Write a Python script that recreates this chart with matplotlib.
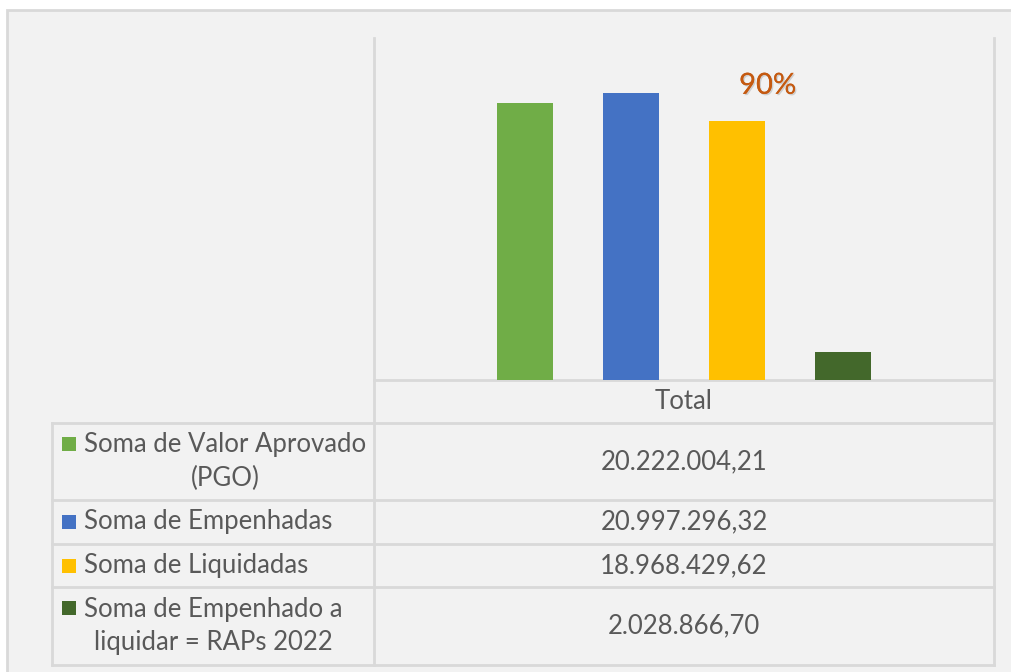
import matplotlib.pyplot as plt
import matplotlib.patheffects as pe
from matplotlib.patches import Rectangle
from matplotlib.lines import Line2D

# data
series = ["Soma de Valor Aprovado\n(PGO)", "Soma de Empenhadas", "Soma de Liquidadas",
          "Soma de Empenhado a\nliquidar = RAPs 2022"]
values = [20222004.21, 20997296.32, 18968429.62, 2028866.70]
colors = ["#70AD47", "#4472C4", "#FFC000", "#43682B"]
category = "Total"

def fmt_br(v):
    s = "{:,.2f}".format(v)
    return s.replace(",", "X").replace(".", ",").replace("X", ".")

W, H = 1012, 672
plt.rcParams["font.family"] = ["Lato", "DejaVu Sans"]
txt = "#595959"
grid = "#D9D9D9"
fs = 18.5

fig = plt.figure(figsize=(W / 100, H / 100), dpi=100)
fig.patch.set_facecolor("white")

# overlay in pixel coords for frame + table
ov = fig.add_axes([0, 0, 1, 1])
ov.set_xlim(0, W)
ov.set_ylim(H, 0)
ov.axis("off")
ov.add_patch(Rectangle((7, 10), W - 7 + 5, H - 10 + 5, facecolor="#F2F2F2", edgecolor=grid, lw=2))

def px(x0, y0, x1, y1):
    ov.add_line(Line2D([x0, x1], [y0, y1], color=grid, lw=2))

left, mid, right = 52, 374, 994
top, base = 38, 380
rows = [380, 423, 500, 544, 587, 665]
px(mid, top, mid, rows[-1])
px(right, top, right, rows[-1])
px(mid, rows[0], right, rows[0])
for y in rows[1:]:
    px(left, y, right, y)
px(left, rows[1], left, rows[-1])

ov.text((mid + right) / 2, (rows[0] + rows[1]) / 2, category, ha="center", va="center",
        fontsize=fs, color=txt)
for i, (lab, v, c) in enumerate(zip(series, values, colors)):
    yc = (rows[i + 1] + rows[i + 2]) / 2
    ov.text((mid + right) / 2, yc, fmt_br(v), ha="center", va="center", fontsize=fs, color=txt)
    nlines = lab.count("\n") + 1
    ov.text(84, yc, lab, ha="left", va="center", multialignment="center",
            fontsize=fs, color=txt, linespacing=1.42)
    ky = yc - (nlines - 1) * 18
    ov.add_patch(Rectangle((62, ky - 7), 14, 14, facecolor=c, edgecolor="none"))

# bars
ax = fig.add_axes([mid / W, 1 - base / H, (right - mid) / W, (base - top) / H])
ax.patch.set_alpha(0)
xs = range(len(values))
ax.bar(xs, values, width=0.53, color=colors)
span = (right - mid) / 106 / 2
ax.set_xlim(1.5 - span, 1.5 + span)
ax.set_ylim(0, 25e6)
ax.axis("off")

pct = values[2] / values[1]
ax.annotate("{:.0%}".format(pct), (2, values[2]), xytext=(22, 25), textcoords="offset points",
            ha="center", va="center", fontsize=21, color="#C55A11",
            path_effects=[pe.withSimplePatchShadow(offset=(1, -1), shadow_rgbFace="#999999", alpha=0.4),
                          pe.Normal()])

fig.savefig("out.png", dpi=100)
